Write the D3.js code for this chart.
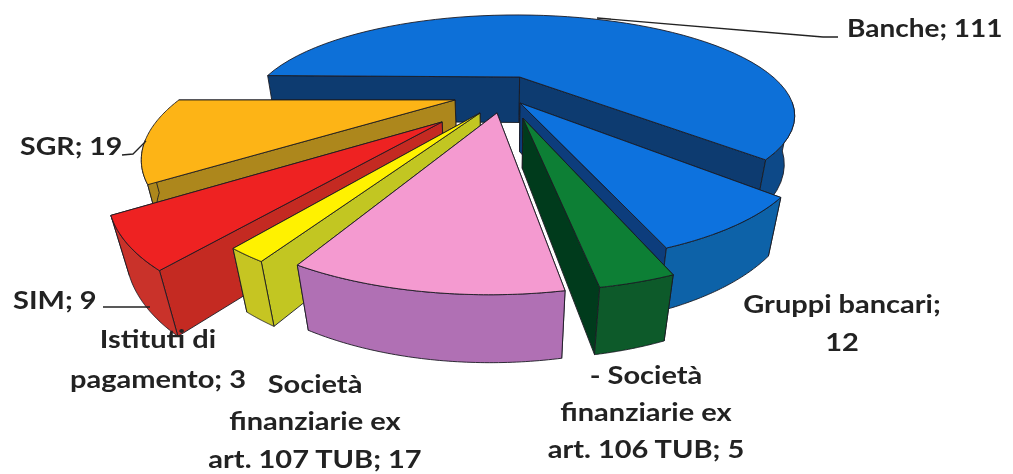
<!DOCTYPE html>
<html>
<head>
<meta charset="utf-8">
<script src="https://cdnjs.cloudflare.com/ajax/libs/d3/7.8.5/d3.min.js"></script>
<style>
  html, body { margin: 0; background: #fff; }
  text { font-family: Lato, "Open Sans", sans-serif; font-weight: 700; font-size: 25px; fill: #222; }
</style>
</head>
<body>
<div id="viz"></div>
<script>
var names = ['Banche', 'Gruppi bancari', 'Societa 106', 'Societa 107', 'Istituti di pagamento', 'SIM', 'SGR'];
var values = [111, 12, 5, 17, 3, 9, 19];

// one label block per slice, line by line
var labelLines = [
  ['Banche; 111'],
  ['Gruppi bancari;', '12'],
  ['- Società', 'finanziarie ex', 'art. 106 TUB; 5'],
  ['Società', 'finanziarie ex', 'art. 107 TUB; 17'],
  ['Istituti di', 'pagamento; 3'],
  ['SIM; 9'],
  ['SGR; 19']
];

// slice look, in unit pie coordinates
var offX = [0.045, 0.042, 0.049, -0.037, -0.094, -0.214, -0.187];
var offY = [-0.142, 0.128, 0.26, 0.217, 0.217, 0.292, 0.099];
var radii = [0.985, 0.915, 0.875, 0.93, 0.93, 0.935, 0.975];
// the scan is a bit warped, so slice edges sit a degree or two off
var startNudge = [1, -2.5, -1.3, -1.2, 1.4, 1, 0.5];
var endNudge = [-1.5, -1.4, -0.8, -0.3, 1, 1.9, 0];

var topColors = ['#0e6fd8', '#0a72de', '#0b7f36', '#f49ad0', '#fff200', '#ee2322', '#fdb414'];
var outerColors = ['#0c4a88', '#0d62a8', '#0a5a2a', '#b06fb4', '#c6c520', '#c9302a', '#ad871a'];
var wallColors = ['#0a3a70', '#0a3c7c', '#063a1e', '#b06fb4', '#c2c622', '#c42b22', '#ad871a'];
var paintOrder = [0, 1, 2, 6, 5, 4, 3];

var width = 1013, height = 474;
var cx = 508, cy = 90, spanX = 272, spanY = 96.6, persp = 0.4;
var vanishX = 505, vanishY = 1500;
var rad = Math.PI / 180;

var pie = d3.pie().sort(null).startAngle(-Math.PI / 2).endAngle(Math.PI * 1.5);
var arcs = pie(values);

// pie plane to screen. y grows towards the viewer
function project(x, y) {
  var s = 1 / (1 - persp * y);
  return [cx + spanX * x * s, cy + spanY * y * s, s];
}

function drop(p) {
  var dy = 47 * Math.pow(p[2], 0.6);
  return [p[0] + (vanishX - p[0]) * dy / (vanishY - p[1]), p[1] + dy];
}

var line = d3.line();

var svg = d3.select('#viz').append('svg')
  .attr('width', width)
  .attr('height', height)
  .style('display', 'block');

var soft = svg.append('filter').attr('id', 'soft');
soft.append('feGaussianBlur').attr('stdDeviation', 0.45);

var root = svg.append('g').attr('filter', 'url(#soft)');

function face(d, fill) {
  root.append('path')
    .attr('d', line(d) + 'Z')
    .attr('fill', fill)
    .attr('stroke', '#1c1c24')
    .attr('stroke-width', 0.9)
    .attr('stroke-linejoin', 'round');
}

paintOrder.forEach(function(i) {
  var a = arcs[i];
  var ang = d3.scaleLinear().domain([0, 60])
    .range([a.startAngle + startNudge[i] * rad, a.endAngle + endNudge[i] * rad]);
  var apex = project(offX[i], offY[i]);
  var rimAngles = d3.range(61).map(ang);
  var rim = rimAngles.map(function(t) {
    return project(offX[i] + radii[i] * Math.sin(t), offY[i] - radii[i] * Math.cos(t));
  });
  var apexLow = drop(apex);

  // radial walls, the one lower on screen goes last so it stays visible
  var ends = rim[0][1] < rim[60][1] ? [rim[0], rim[60]] : [rim[60], rim[0]];
  ends.forEach(function(p) {
    face([apex, p, drop(p), apexLow], wallColors[i]);
  });

  // outer wall only where it turns towards the camera
  var seen = rim.filter(function(p, k) {
    var t = rimAngles[k];
    var facing = (0 - offX[i]) * Math.sin(t) - (1 / persp - offY[i]) * Math.cos(t) - radii[i];
    return facing > -0.35;
  });
  if (seen.length > 1) {
    face(seen.concat(seen.map(drop).reverse()), outerColors[i]);
  }

  face([apex].concat(rim), topColors[i]);
});

// leader lines
var leaders = [
  [[597, 18], [823, 37], [838, 37]],
  [[103, 307], [150, 307]],
  [[122, 155], [133, 154], [146, 141]]
];
root.selectAll('path.leader').data(leaders).enter().append('path')
  .attr('class', 'leader')
  .attr('d', line)
  .attr('fill', 'none')
  .attr('stroke', '#222')
  .attr('stroke-width', 1.3);

// label placement: anchor x, first baseline, line step
var labelX = [847, 842, 646, 315, 158, 13, 20];
var labelY = [37, 313, 384, 393, 348, 309, 155];
var labelAnchor = ['start', 'middle', 'middle', 'middle', 'middle', 'start', 'start'];
var labelStep = [0, 38, 37, 37.5, 40, 0, 0];
var labelStretch = [1.12, 1.16, 1.16, 1.16, 1.16, 1.16, 1.14];

labelLines.forEach(function(rows, i) {
  root.append('text')
    .attr('transform', 'translate(' + labelX[i] + ',' + labelY[i] + ') scale(' + labelStretch[i] + ',1)')
    .attr('text-anchor', labelAnchor[i])
    .selectAll('tspan').data(rows).enter().append('tspan')
    .attr('x', 0)
    .attr('dy', function(d, k) { return k ? labelStep[i] : 0; })
    .text(function(d) { return d; });
});
</script>
</body>
</html>
